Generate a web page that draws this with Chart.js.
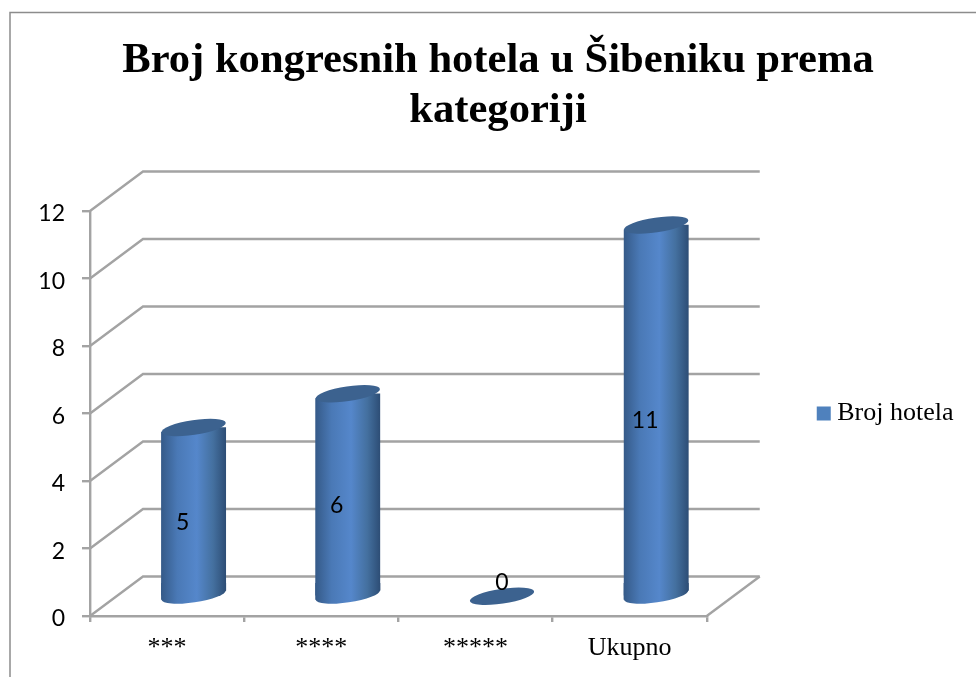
<!DOCTYPE html>
<html>
<head>
<meta charset="utf-8">
<title>Broj kongresnih hotela</title>
<script src="https://cdn.jsdelivr.net/npm/chart.js@4/dist/chart.umd.min.js"></script>
<style>
    body { margin: 0; background: #fff; }
    canvas { display: block; }
</style>
</head>
<body>
<canvas id="hotel-chart" width="976" height="677"></canvas>
<script>
const categories = ['***', '****', '*****', 'Ukupno'];
const hotelCounts = [5, 6, 0, 11];
const seriesName = 'Broj hotela';
const titleLines = ['Broj kongresnih hotela u Šibeniku prema', 'kategoriji'];

const serif = "'Liberation Serif', serif";
const sans = "Lato, sans-serif";
const lineColor = '#a3a3a3';
// 3D box: how far the back wall sits from the front plane
const depthX = 53;
const depthY = 39.5;
// cylinder end ellipses
const radiusX = 32.5;
const radiusY = 7.4;
const tilt = -8.5 * Math.PI / 180;
const slant = 4.6;

// horizontal shading of a cylinder centred on cx
function cylinderFill(ctx, cx) {
    const g = ctx.createLinearGradient(cx - radiusX, 0, cx + radiusX, 0);
    g.addColorStop(0, '#355a88');
    g.addColorStop(0.25, '#4a79b6');
    g.addColorStop(0.55, '#5587cb');
    g.addColorStop(0.8, '#44709f');
    g.addColorStop(1, '#2d4d75');
    return g;
}

function ellipse(ctx, cx, cy) {
    ctx.beginPath();
    ctx.ellipse(cx, cy, radiusX, radiusY, tilt, 0, Math.PI * 2);
    ctx.fill();
}

const box3d = {
    id: 'box3d',
    beforeDraw(chart) {
        // outer frame runs off the right and bottom of the picture
        const ctx = chart.ctx;
        ctx.save();
        ctx.strokeStyle = '#8c8c8c';
        ctx.lineWidth = 1.5;
        ctx.beginPath();
        ctx.moveTo(10, 700);
        ctx.lineTo(10, 12.5);
        ctx.lineTo(990, 12.5);
        ctx.stroke();
        ctx.restore();
    },
    beforeDatasetsDraw(chart) {
        const ctx = chart.ctx;
        const { x: xScale, y: yScale } = chart.scales;
        const bars = chart.getDatasetMeta(0).data;
        const left = xScale.left;
        const right = xScale.right;

        // wall gridlines and the floor edge
        ctx.save();
        ctx.strokeStyle = lineColor;
        ctx.lineWidth = 2.4;
        yScale.ticks.forEach(t => {
            const py = yScale.getPixelForValue(t.value);
            ctx.beginPath();
            ctx.moveTo(left, py);
            ctx.lineTo(left + depthX, py - depthY);
            ctx.lineTo(right + depthX, py - depthY);
            ctx.stroke();
        });
        const floorY = yScale.getPixelForValue(0);
        ctx.beginPath();
        ctx.moveTo(right, floorY);
        ctx.lineTo(right + depthX, floorY - depthY);
        ctx.stroke();
        ctx.restore();

        // everything for the bars sits half way into the box
        ctx.save();
        ctx.translate(depthX / 2, -depthY / 2);

        // rounded feet of the standing cylinders
        bars.forEach((bar, i) => {
            if (!hotelCounts[i]) return;
            ctx.fillStyle = cylinderFill(ctx, bar.x);
            ellipse(ctx, bar.x, bar.base);
            ctx.beginPath();
            ctx.moveTo(bar.x - radiusX, bar.base + slant);
            ctx.lineTo(bar.x + radiusX, bar.base - slant);
            ctx.lineTo(bar.x + radiusX, bar.base - 12);
            ctx.lineTo(bar.x - radiusX, bar.base - 12);
            ctx.closePath();
            ctx.fill();
        });

        // cut the square bar ends along the slant of the ellipses
        ctx.beginPath();
        bars.forEach((bar, i) => {
            if (!hotelCounts[i]) return;
            ctx.moveTo(bar.x - radiusX, bar.y + slant);
            ctx.lineTo(bar.x + radiusX, bar.y - slant);
            ctx.lineTo(bar.x + radiusX, bar.base - slant);
            ctx.lineTo(bar.x - radiusX, bar.base + slant);
            ctx.closePath();
        });
        ctx.clip();
    },
    afterDatasetsDraw(chart) {
        const ctx = chart.ctx;
        const bars = chart.getDatasetMeta(0).data;
        ctx.restore();

        ctx.save();
        ctx.translate(depthX / 2, -depthY / 2);
        bars.forEach(bar => {
            ctx.fillStyle = '#3c628f';
            ellipse(ctx, bar.x, bar.y);
        });

        // value labels
        ctx.fillStyle = '#000';
        ctx.font = '23px ' + sans;
        ctx.textAlign = 'center';
        ctx.textBaseline = 'middle';
        bars.forEach((bar, i) => {
            if (hotelCounts[i]) {
                ctx.fillText(hotelCounts[i], bar.x - 11, (bar.y + bar.base) / 2 + 11);
            } else {
                ctx.fillText(hotelCounts[i], bar.x, bar.y - 14);
            }
        });
        ctx.restore();
    }
};

new Chart(document.getElementById('hotel-chart'), {
    type: 'bar',
    data: {
        labels: categories,
        datasets: [{
            label: seriesName,
            data: hotelCounts,
            yAxisID: 'y',
            clip: false,
            barThickness: radiusX * 2,
            backgroundColor: ctx => cylinderFill(ctx.chart.ctx, ctx.chart.scales.x.getPixelForValue(ctx.dataIndex) || 0)
        }]
    },
    options: {
        responsive: false,
        animation: false,
        layout: { padding: { left: 32.5, right: 12.5, top: 0, bottom: 0 } },
        plugins: {
            title: {
                display: true,
                text: titleLines,
                color: '#000',
                font: { family: serif, size: 42.6, weight: 'bold', lineHeight: 1.17 },
                padding: { top: 36.5, bottom: 74.8 }
            },
            legend: {
                position: 'right',
                fullSize: false,
                labels: {
                    color: '#000',
                    font: { family: serif, size: 26 },
                    boxWidth: 1,
                    boxHeight: 1,
                    // wide stroke grows the swatch without widening the gap to the text
                    generateLabels: () => [{
                        text: seriesName,
                        fillStyle: '#4f81bd',
                        strokeStyle: '#4f81bd',
                        lineWidth: 13,
                        datasetIndex: 0
                    }]
                }
            },
            tooltip: { enabled: false }
        },
        scales: {
            x: {
                afterFit: scale => { scale.height = 61; },
                grid: { drawOnChartArea: false, color: lineColor, lineWidth: 2.4, tickLength: 6, offset: true },
                border: { color: lineColor, width: 2.4 },
                ticks: { color: '#000', font: { family: serif, size: 26 }, padding: 11, maxRotation: 0 }
            },
            y: {
                min: 0,
                max: 12,
                afterFit: scale => { scale.width = 57.5; },
                grid: { drawOnChartArea: false, color: lineColor, lineWidth: 2.4, tickLength: 8 },
                border: { color: lineColor, width: 2.4 },
                ticks: {
                    stepSize: 2,
                    color: '#000',
                    // empty first line with a short line height nudges the digits down a little
                    callback: value => ['', String(value)],
                    font: { family: sans, size: 23, lineHeight: '6px' },
                    padding: 17
                }
            },
            // empty right-hand axis keeps the room the back wall runs into
            spacer: {
                type: 'linear',
                position: 'right',
                afterFit: scale => { scale.width = 106.5; },
                grid: { display: false },
                border: { display: false },
                ticks: { display: false }
            }
        }
    },
    plugins: [box3d]
});
</script>
</body>
</html>
